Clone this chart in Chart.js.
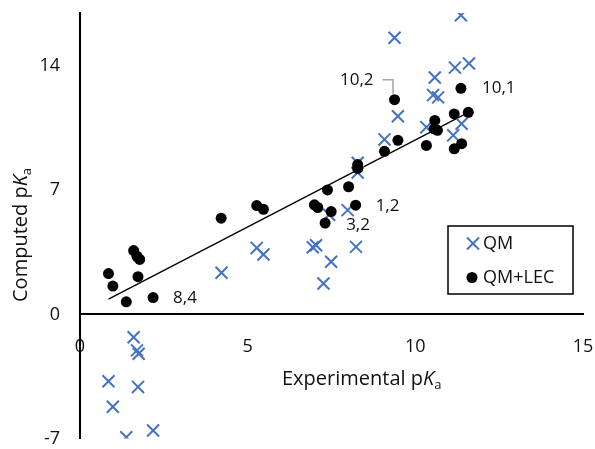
<!DOCTYPE html>
<html>
<head>
<meta charset="utf-8">
<script src="https://cdn.jsdelivr.net/npm/chart.js@4.4.1/dist/chart.umd.min.js"></script>
<style>
  body { margin: 0; background: #fff; }
  #wrap { width: 595px; height: 449px; }
</style>
</head>
<body>
<div id="wrap"><canvas id="grafico" width="595" height="449"></canvas></div>
<script>
// valores
const qmX = [0.85, 0.98, 1.38, 1.60, 1.70, 1.75, 1.73, 2.18, 4.22, 5.27, 5.47, 6.94, 7.04, 7.43, 7.49, 7.26,
             7.98, 8.23, 8.28, 8.28, 9.38, 11.36, 9.48, 9.08, 10.58, 10.53, 10.68, 10.33, 11.18, 11.60, 11.38, 11.13];
const qmY = [-3.77, -5.21, -6.93, -1.29, -2.03, -2.22, -4.09, -6.55, 2.35, 3.75, 3.38, 3.79, 3.90, 5.62, 2.97, 1.74,
             5.88, 3.81, 8.55, 8.00, 15.60, 16.87, 11.18, 9.87, 13.36, 12.37, 12.24, 10.56, 13.92, 14.15, 10.75, 10.10];

const lecX = [0.85, 0.98, 1.38, 1.60, 1.70, 1.78, 1.73, 2.18, 4.21, 5.27, 5.47, 6.99, 7.09, 7.38, 7.49, 7.31,
              8.01, 8.22, 8.28, 8.28, 9.38, 11.36, 9.48, 9.08, 10.58, 10.56, 10.66, 10.33, 11.16, 11.58, 11.38, 11.16];
const lecY = [2.30, 1.60, 0.71, 3.60, 3.28, 3.10, 2.13, 0.95, 5.43, 6.14, 5.93, 6.18, 6.03, 7.02, 5.80, 5.15,
              7.20, 6.16, 8.45, 8.23, 12.11, 12.75, 9.82, 9.20, 10.94, 10.47, 10.38, 9.53, 11.31, 11.40, 9.63, 9.34];

// linha de tendencia (QM+LEC)
const trendX = [0.85, 11.60];
const trendY = [0.86, 11.41];

// rotulos dos pontos
const labelText = ['10,2', '10,1', '1,2', '3,2', '8,4'];
const labelX = [9.38, 11.36, 8.22, 7.31, 2.18];
const labelY = [12.11, 12.75, 6.16, 5.15, 0.95];

const xTicks = [0, 5, 10, 15];
const yTicks = [-7, 0, 7, 14];

const fonte = '"Open Sans", sans-serif';
const corTexto = '#111';
const azul = '#4472C4';

function pontos(xs, ys) {
    return xs.map((x, i) => ({x: x, y: ys[i]}));
}

// titulos, legenda e rotulos desenhados a mao
const extras = {
    id: 'extras',
    afterDraw(chart) {
        const ctx = chart.ctx;
        const sx = chart.scales.x, sy = chart.scales.y;
        ctx.save();
        ctx.fillStyle = corTexto;
        ctx.textBaseline = 'middle';

        // rotulos
        ctx.font = '17px ' + fonte;
        const offsets = [[-21, -20, 'right'], [21, 0, 'left'], [20, 1, 'left'], [21, 2, 'left'], [20, 1, 'left']];
        labelText.forEach((t, i) => {
            const px = sx.getPixelForValue(labelX[i]);
            const py = sy.getPixelForValue(labelY[i]);
            ctx.textAlign = offsets[i][2];
            ctx.fillText(t, px + offsets[i][0], py + offsets[i][1]);
        });
        // linha guia do 10,2
        const gx = sx.getPixelForValue(labelX[0]), gy = sy.getPixelForValue(labelY[0]);
        ctx.strokeStyle = '#a6a6a6';
        ctx.lineWidth = 1.5;
        ctx.beginPath();
        ctx.moveTo(gx - 12, gy - 20);
        ctx.lineTo(gx - 1.5, gy - 20);
        ctx.lineTo(gx - 1.5, gy - 6);
        ctx.stroke();

        // titulo eixo x
        ctx.textAlign = 'left';
        ctx.font = '20px ' + fonte;
        let x = 282, y = 379;
        ctx.fillText('Experimental p', x, y);
        x += ctx.measureText('Experimental p').width;
        ctx.font = 'italic 20px ' + fonte;
        ctx.fillText('K', x, y);
        x += ctx.measureText('K').width;
        ctx.font = '13px ' + fonte;
        ctx.fillText('a', x, y + 6);

        // titulo eixo y
        ctx.save();
        ctx.translate(21, 302);
        ctx.rotate(-Math.PI / 2);
        ctx.font = '20px ' + fonte;
        x = 0;
        ctx.fillText('Computed p', x, 0);
        x += ctx.measureText('Computed p').width;
        ctx.font = 'italic 20px ' + fonte;
        ctx.fillText('K', x, 0);
        x += ctx.measureText('K').width;
        ctx.font = '13px ' + fonte;
        ctx.fillText('a', x, 6);
        ctx.restore();

        // legenda
        ctx.strokeStyle = '#000';
        ctx.lineWidth = 1.5;
        ctx.strokeRect(448, 226, 125, 68);
        ctx.strokeStyle = azul;
        ctx.fillStyle = azul;
        ctx.lineWidth = 2;
        Chart.helpers.drawPoint(ctx, {pointStyle: 'crossRot', radius: 8.5, borderWidth: 2}, 473, 243.5);
        ctx.fillStyle = '#000';
        ctx.strokeStyle = '#000';
        Chart.helpers.drawPoint(ctx, {pointStyle: 'circle', radius: 5.5, borderWidth: 0}, 472, 277.5);
        ctx.fillStyle = corTexto;
        ctx.font = '18px ' + fonte;
        ctx.textAlign = 'left';
        ctx.fillText('QM', 483, 243.5);
        ctx.fillText('QM+LEC', 483, 277.5);
        ctx.restore();
    }
};

function semMargem(s) {
    s.paddingTop = 0;
    s.paddingBottom = 0;
    s.paddingLeft = 0;
    s.paddingRight = 0;
}

const ctx = document.getElementById('grafico').getContext('2d');
const grafico = new Chart(ctx, {
    type: 'scatter',
    data: {
        datasets: [
            {
                label: 'QM+LEC',
                data: pontos(lecX, lecY),
                pointStyle: 'circle',
                pointRadius: 5.5,
                pointBorderWidth: 0,
                backgroundColor: '#000',
                borderColor: '#000',
                order: 1
            },
            {
                label: 'QM',
                data: pontos(qmX, qmY),
                pointStyle: 'crossRot',
                pointRadius: 8.5,
                pointBorderWidth: 2,
                borderColor: azul,
                backgroundColor: azul,
                order: 2
            },
            {
                label: 'tendencia',
                data: pontos(trendX, trendY),
                showLine: true,
                pointRadius: 0,
                borderColor: '#000',
                borderWidth: 1.3,
                order: 3
            }
        ]
    },
    options: {
        responsive: false,
        animation: false,
        devicePixelRatio: 1,
        layout: {padding: {left: 0, top: 13, right: 12, bottom: 5}},
        plugins: {
            legend: {display: false},
            tooltip: {enabled: false}
        },
        scales: {
            x: {
                type: 'linear',
                min: 0,
                max: 15,
                position: {y: 0},
                afterBuildTicks: (s) => { s.ticks = xTicks.map(v => ({value: v})); },
                afterFit: (s) => { semMargem(s); s.height = 0; },
                grid: {display: false, drawTicks: false},
                border: {display: true, color: '#000', width: 2},
                ticks: {padding: 22, color: corTexto, font: {family: fonte, size: 18}}
            },
            y: {
                type: 'linear',
                min: -7,
                max: 17,
                afterBuildTicks: (s) => { s.ticks = yTicks.map(v => ({value: v})); },
                afterFit: (s) => { semMargem(s); s.width = 80; },
                grid: {display: false, drawTicks: false},
                border: {display: true, color: '#000', width: 2},
                ticks: {padding: 20, color: corTexto, font: {family: fonte, size: 18}}
            }
        }
    },
    plugins: [extras]
});
</script>
</body>
</html>
